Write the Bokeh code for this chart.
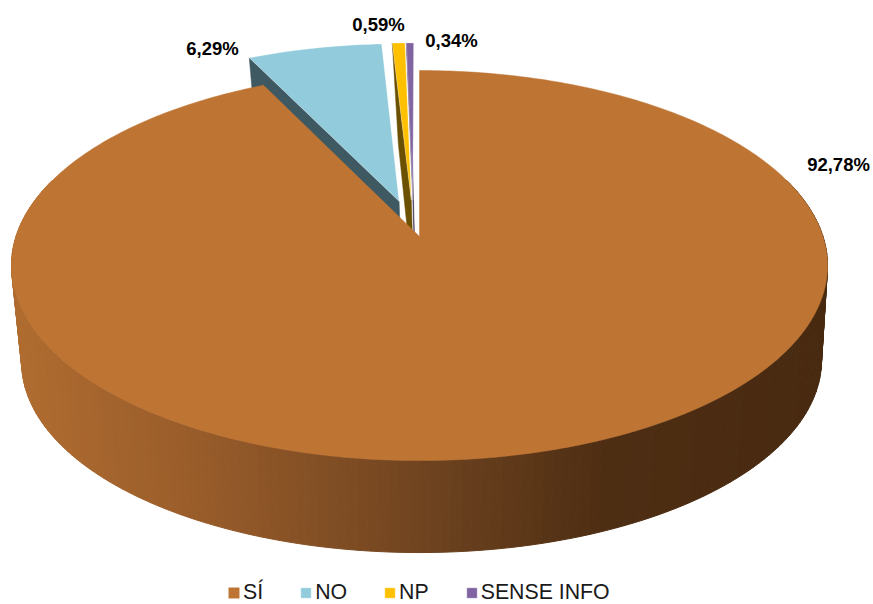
import numpy as np
from bokeh.plotting import figure
from bokeh.models import Range1d, ColumnDataSource, Legend, LegendItem
from bokeh.core.properties import value
from bokeh.embed import file_html
from bokeh.resources import INLINE

categories = ["SÍ", "NO", "NP", "SENSE INFO"]
shares = [92.78, 6.29, 0.59, 0.34]
labels = ["92,78%", "6,29%", "0,59%", "0,34%"]

top_colors = ["#BE7534", "#92CCDC", "#FFC000", "#8064A2"]
wall_colors = ["#BE7534", "#3F5962", "#6B5000", "#3A2D4C"]
pull_u = [0.0, -0.052, -0.021, -0.017]
pull_v = [0.0, 0.190, 0.196, 0.196]
label_x = [838, 212, 378, 451]
label_y = [164, 48, 24, 40]
gradient_x = [11, 200, 420, 600, 828]
gradient_rgb = [(176, 108, 48), (152, 92, 42), (112, 68, 32), (78, 46, 19), (72, 42, 17)]

W, H = 873, 604
APEX_X, APEX_Y = 419.0, 236.0
A, B, K = 403.5, 190.7, 0.1488
LOW_S, LOW_Y, LOW_SKEW = 0.98, 332.5, 2.5


def upper(u, v):
    w = 1 + K * v
    return APEX_X + A * u / w, APEX_Y - B * v / w


def lower(u, v):
    w = 1 + K * v
    return (APEX_X + LOW_S * A * u / w + LOW_SKEW * (1 + v),
            LOW_Y - LOW_S * B * v / w)


edges = np.concatenate([[0.0], np.cumsum(shares) / np.sum(shares)]) * 2 * np.pi

p = figure(width=W, height=H, output_backend="svg", toolbar_location=None,
           x_range=Range1d(0, W), y_range=Range1d(H, 0),
           min_border=0, outline_line_color=None, background_fill_color="white")
p.axis.visible = False
p.grid.visible = False

top_renderers = {}
# small slices, back to front
for i in [1, 2, 3]:
    a0, a1 = edges[i], edges[i + 1]
    du, dv = pull_u[i], pull_v[i]
    cu, cv = np.sin(a0) + du, np.cos(a0) + dv
    wx, wy = zip(upper(cu, cv), upper(du, dv), lower(du, dv), lower(cu, cv))
    p.patch(list(wx), list(wy), fill_color=wall_colors[i], line_color=wall_colors[i], line_width=0.5)
    th = np.linspace(a0, a1, 30)
    tx, ty = upper(np.sin(th) + du, np.cos(th) + dv)
    tx = [upper(du, dv)[0]] + list(tx)
    ty = [upper(du, dv)[1]] + list(ty)
    top_renderers[i] = p.patch(tx, ty, fill_color=top_colors[i], line_color="white",
                               line_alpha=0.45, line_width=0.7)

# outer wall of the big slice as shaded strips
n = 170
th = np.linspace(np.pi * 0.40, np.pi * 1.60, n + 1)
xs, ys, cols = [], [], []
for a, b in zip(th[:-1], th[1:]):
    x0, y0 = upper(np.sin(a), np.cos(a))
    x1, y1 = upper(np.sin(b), np.cos(b))
    x2, y2 = lower(np.sin(b), np.cos(b))
    x3, y3 = lower(np.sin(a), np.cos(a))
    xs.append([x0, x1, x2, x3])
    ys.append([y0, y1, y2, y3])
    mid = (x0 + x1) / 2
    rgb = [np.interp(mid, gradient_x, [c[j] for c in gradient_rgb]) for j in range(3)]
    cols.append("#%02x%02x%02x" % tuple(int(round(c)) for c in rgb))
p.patches("xs", "ys", source=ColumnDataSource(dict(xs=xs, ys=ys, c=cols)),
          fill_color="c", line_color="c", line_width=1.0)

# top of the big slice
th = np.linspace(edges[0], edges[1], 400)
tx, ty = upper(np.sin(th), np.cos(th))
top_renderers[0] = p.patch([APEX_X] + list(tx), [APEX_Y] + list(ty),
                           fill_color=top_colors[0], line_color=top_colors[0], line_width=0.5)

p.text(label_x, label_y, text=labels, text_font=value("Liberation Sans"),
       text_font_style="bold", text_font_size="18.5px", text_color="black",
       text_align="center", text_baseline="middle")

legend = Legend(items=[LegendItem(label=c, renderers=[top_renderers[i]]) for i, c in enumerate(categories)],
                orientation="horizontal", location=(227, -1), padding=0, margin=0, spacing=36,
                glyph_width=13, glyph_height=13, label_standoff=3, label_height=20,
                label_text_font="Liberation Sans", label_text_font_size="21.3px",
                label_text_color="#1a1a1a", border_line_color=None,
                background_fill_alpha=0)
p.add_layout(legend, "center")

open("out.html", "w").write(file_html(p, INLINE))
